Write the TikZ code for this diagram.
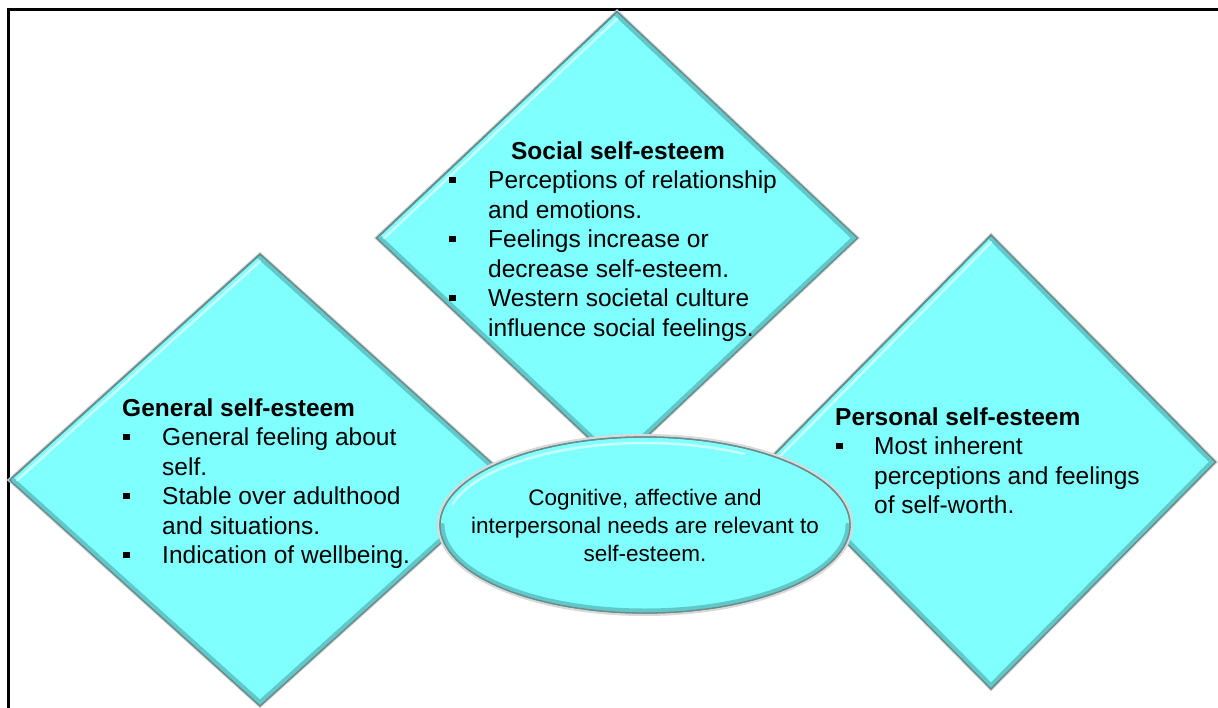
\documentclass[tikz,border=0pt]{standalone}
\usepackage{fontspec}
\setmainfont{Liberation Sans}
\usetikzlibrary{shapes.geometric,calc}
\definecolor{aqua}{RGB}{128,255,255}
\definecolor{aquadark}{RGB}{96,200,200}
\definecolor{aqualight}{RGB}{200,255,255}
\definecolor{rim}{RGB}{105,140,140}
\newcommand{\sqb}{\rule[5.5pt]{6.5pt}{6.5pt}}
\begin{document}
\begin{tikzpicture}[x=1pt,y=-1pt,
  dia/.style={diamond, fill=aqua, draw=rim, line width=1.3pt, inner sep=0pt},
  ell/.style={ellipse, fill=aqua, draw=rim, line width=1.3pt, inner sep=0pt},
  shade/.style={draw=gray!30, line width=4pt},
  hi/.style={draw=aqualight, line width=2.5pt, line cap=round},
  lo/.style={draw=aquadark, line width=4pt, line cap=round},
  txt/.style={inner sep=0pt, anchor=base west, font=\fontsize{24.5}{29.5}\selectfont},
  ttl/.style={inner sep=0pt, font=\fontsize{24.5}{29.5}\selectfont\bfseries},
  etxt/.style={inner sep=0pt, anchor=base, font=\fontsize{22.5}{28}\selectfont}]
\clip (0,0) rectangle (1218,707);
\fill[white] (0,0) rectangle (1218,707);
% frame
\draw[line width=3pt] (8,740) -- (8,9) -- (1240,9);

% diamonds
\foreach \n/\cx/\cy/\w/\h in {soc/617/238/480/452, gen/260/480/500/451, per/991/462/448/453}{
  \node[dia, shade, minimum width=\w+2, minimum height=\h+2] at (\cx,\cy) {};
  \node[dia, minimum width=\w, minimum height=\h] (\n) at (\cx,\cy) {};
  \draw[lo] ($(\n.north)+(0,4)$) -- ($(\n.east)+(-4,0)$) -- ($(\n.south)+(0,-4)$) -- ($(\n.west)+(4,0)$);
  \draw[hi] ($(\n.west)+(8,0)$) -- ($(\n.north)+(0,7.5)$);
  \draw[dia, fill=none] (\n.north) -- (\n.east) -- (\n.south) -- (\n.west) -- cycle;
}

% ellipse
\node[ell, draw=gray!30, line width=4pt, minimum width=412, minimum height=178] at (645,525) {};
\node[ell, minimum width=410, minimum height=176] (cog) at (645,525) {};
\draw[lo] ([shift={(0:202.5 and 85.5)}]cog.center) arc[start angle=0, end angle=180, x radius=202.5, y radius=85.5];
\draw[hi] ([shift={(195:199 and 82)}]cog.center) arc[start angle=195, end angle=300, x radius=199, y radius=82];
\draw[draw=rim, line width=1.3pt] (cog.center) ellipse[x radius=205, y radius=88];

% social text
\node[ttl, anchor=base] (socT) at (618,159) {Social self-esteem};
\node[txt] (socL) at (449,188.5) {\begin{tabular}[t]{@{}p{39pt}@{}l@{}}
\sqb & Perceptions of relationship\\
 & and emotions.\\
\sqb & Feelings increase or\\
 & decrease self-esteem.\\
\sqb & Western societal culture\\
 & influence social feelings.
\end{tabular}};

% general text
\node[ttl, anchor=base west] (genT) at (122,416) {General self-esteem};
\node[txt] (genL) at (123,445.5) {\begin{tabular}[t]{@{}p{39pt}@{}l@{}}
\sqb & General feeling about\\
 & self.\\
\sqb & Stable over adulthood\\
 & and situations.\\
\sqb & Indication of wellbeing.
\end{tabular}};

% personal text
\node[ttl, anchor=base west] (perT) at (835,425) {Personal self-esteem};
\node[txt] (perL) at (836,454.5) {\begin{tabular}[t]{@{}p{38pt}@{}l@{}}
\sqb & Most inherent\\
 & perceptions and feelings\\
 & of self-worth.
\end{tabular}};

% ellipse text
\node[etxt] (cogT) at (645,505) {\begin{tabular}[t]{@{}c@{}}
Cognitive, affective and\\
interpersonal needs are relevant to\\
self-esteem.
\end{tabular}};
\end{tikzpicture}
\end{document}
